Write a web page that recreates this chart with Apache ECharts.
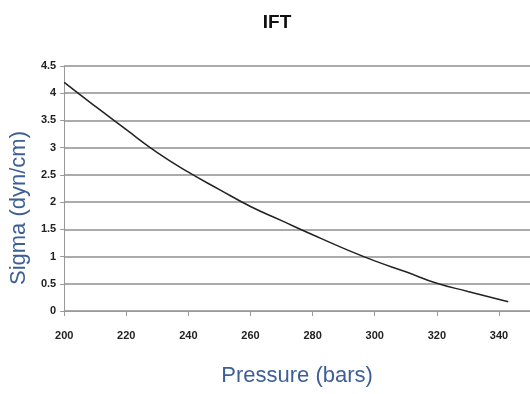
<!DOCTYPE html>
<html>
<head>
<meta charset="utf-8">
<script src="https://cdn.jsdelivr.net/npm/echarts@6/dist/echarts.min.js"></script>
<style>
  html, body { margin: 0; padding: 0; background: #fff; }
  #chart { width: 530px; height: 394px; }
</style>
</head>
<body>
<div id="chart"></div>
<script>
// pressure (bars) vs interfacial tension (dyn/cm)
const pressure = [200, 210, 220, 230, 240, 250, 260, 270, 280, 290, 300, 310, 320, 330, 343];
const sigma = [4.20, 3.76, 3.33, 2.91, 2.55, 2.23, 1.92, 1.66, 1.40, 1.15, 0.92, 0.72, 0.51, 0.36, 0.17];

const blue = '#3d5f96';
const labelFont = { color: '#222', fontWeight: 'bold', fontSize: 11, fontFamily: 'Liberation Sans' };

const chart = echarts.init(document.getElementById('chart'));
chart.setOption({
  backgroundColor: '#fff',
  animation: false,
  title: {
    text: 'IFT',
    left: 272,
    top: 8,
    textAlign: 'center',
    textStyle: { fontSize: 19, fontWeight: 'bold', color: '#111', fontFamily: 'Liberation Sans Narrow, Liberation Sans' }
  },
  grid: { left: 63, right: 0, top: 66, bottom: 83 },
  xAxis: {
    type: 'value',
    min: 200,
    max: 350,
    interval: 20,
    name: 'Pressure (bars)',
    nameLocation: 'middle',
    nameGap: 54,
    nameTextStyle: { color: blue, fontSize: 22, fontFamily: 'Liberation Sans' },
    axisLine: { show: true, lineStyle: { color: '#999', width: 1 } },
    axisTick: { show: true, length: 5, lineStyle: { color: '#999' } },
    axisLabel: Object.assign({ margin: 19, showMaxLabel: false }, labelFont),
    splitLine: { show: false }
  },
  yAxis: {
    type: 'value',
    min: 0,
    max: 4.5,
    interval: 0.5,
    name: 'Sigma (dyn/cm)',
    nameLocation: 'middle',
    nameGap: 30,
    nameTextStyle: { color: blue, fontSize: 22, fontFamily: 'Liberation Sans', padding: [0, 0, 0, -39] },
    axisLine: { show: true, lineStyle: { color: '#999', width: 1 } },
    axisTick: { show: true, length: 4, lineStyle: { color: '#999' } },
    axisLabel: Object.assign({ margin: 8 }, labelFont),
    splitLine: { show: true, lineStyle: { color: '#8f8f8f', width: 1.5 } }
  },
  series: [{
    type: 'line',
    data: pressure.map((p, i) => [p, sigma[i]]),
    smooth: true,
    symbol: 'none',
    lineStyle: { color: '#222', width: 1.5 }
  }]
});
</script>
</body>
</html>
